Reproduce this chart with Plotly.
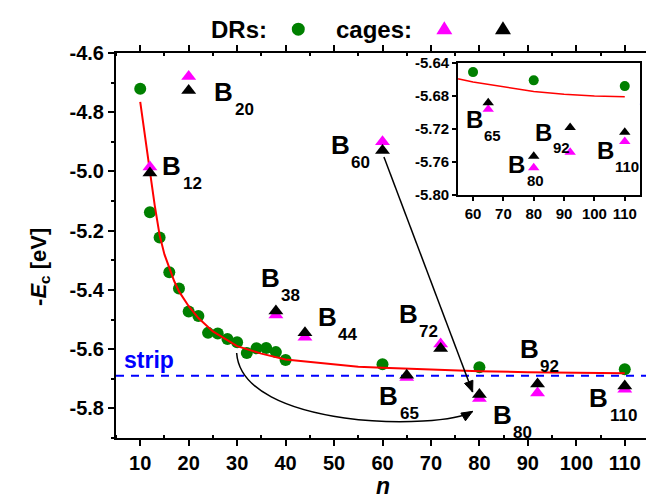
import math
import plotly.graph_objects as go

# ---------------- data ----------------
dr_n = [10, 12, 14, 16, 18, 20, 22, 24, 26, 28, 30, 32, 34, 36, 38, 40, 60, 80, 110]
dr_e = [-4.721, -5.138, -5.223, -5.340, -5.395, -5.473, -5.488, -5.545, -5.547, -5.566,
        -5.577, -5.613, -5.597, -5.596, -5.610, -5.637, -5.651, -5.661, -5.668]

cage_n = [12, 20, 38, 44, 60, 65, 72, 80, 92, 110]
cage_a = [-4.985, -4.679, -5.485, -5.560, -4.900, -5.696, -5.583, -5.767, -5.748, -5.735]  # magenta
cage_b = [-5.005, -4.727, -5.471, -5.545, -4.929, -5.688, -5.598, -5.753, -5.718, -5.724]  # black

fit_n = [10, 11, 12, 13, 14, 15, 16, 17, 18, 20, 22, 25, 30, 35, 40, 50, 55, 60, 70, 80, 90, 100, 110]
fit_e = [-4.765, -4.89, -5.0, -5.115, -5.215, -5.28, -5.328, -5.37, -5.405, -5.455, -5.495,
         -5.54, -5.59, -5.615, -5.635, -5.652, -5.659, -5.663, -5.669, -5.6745, -5.678, -5.680, -5.681]

strip_e = -5.69

x_ticks = [10, 20, 30, 40, 50, 60, 70, 80, 90, 100, 110]
x_ticktext = ["10", "20", "30", "40", "50", "60", "70", "80", "90", "100", "110"]
y_ticks = [-5.8, -5.6, -5.4, -5.2, -5.0, -4.8, -4.6]
y_ticktext = ["-5.8", "-5.6", "-5.4", "-5.2", "-5.0", "-4.8", "-4.6"]

ix_ticks = [60, 70, 80, 90, 100, 110]
ix_ticktext = ["60", "70", "80", "90", "100", "110"]
iy_ticks = [-5.80, -5.76, -5.72, -5.68, -5.64]
iy_ticktext = ["-5.80", "-5.76", "-5.72", "-5.68", "-5.64"]

# cluster labels: (subscript, x, y) of the "B"
main_labels = [("20", 27.2, -4.730), ("12", 16.5, -4.983), ("38", 36.8, -5.360),
               ("44", 48.6, -5.492), ("60", 51.3, -4.912), ("72", 65.3, -5.481),
               ("65", 61.3, -5.757), ("80", 84.7, -5.824), ("92", 90.3, -5.598),
               ("110", 104.6, -5.764)]
inset_labels = [("65", 60.4, -5.709), ("80", 74.4, -5.763), ("92", 83.2, -5.724),
                ("110", 103.5, -5.746)]

FONT = "Liberation Sans"
GREEN = "#008000"
MAGENTA = "#ff00ff"

# figure geometry (px)
W, H = 654, 499
ML, MR, MT, MB = 108, 5, 45, 69
PW, PH = W - ML - MR, H - MT - MB
XR, YR = [5, 115], [-5.9, -4.6]
PX_X = PW / (XR[1] - XR[0])
PX_Y = PH / (YR[1] - YR[0])

fig = go.Figure()

for xa, ya, msz, tsz in (("x", "y", 12, 13), ("x2", "y2", 10, 10)):
    fig.add_trace(go.Scatter(x=dr_n, y=dr_e, mode="markers", xaxis=xa, yaxis=ya,
                             marker=dict(symbol="circle", size=msz, color=GREEN),
                             showlegend=False))
    fig.add_trace(go.Scatter(x=fit_n, y=fit_e, mode="lines", xaxis=xa, yaxis=ya,
                             line=dict(color="red", width=2 if xa == "x" else 1.5),
                             showlegend=False))
    fig.add_trace(go.Scatter(x=cage_n, y=cage_a, mode="markers", xaxis=xa, yaxis=ya,
                             marker=dict(symbol="triangle-up", size=tsz, color=MAGENTA),
                             showlegend=False))
    fig.add_trace(go.Scatter(x=cage_n, y=cage_b, mode="markers", xaxis=xa, yaxis=ya,
                             marker=dict(symbol="triangle-up", size=tsz, color="black"),
                             showlegend=False))

main_axis = dict(showline=True, linecolor="black", linewidth=2, mirror="allticks",
                 ticks="outside", ticklen=6, tickwidth=2, tickcolor="black",
                 showgrid=False, zeroline=False,
                 tickfont=dict(family=FONT, size=20, color="black", weight="bold"))
inset_axis = dict(showline=True, linecolor="black", linewidth=1.5, mirror=True,
                  ticks="outside", ticklen=4, tickwidth=1.5, tickcolor="black",
                  showgrid=False, zeroline=False,
                  tickfont=dict(family=FONT, size=15, color="black", weight="bold"))

fig.update_layout(
    width=W, height=H,
    margin=dict(l=ML, r=MR, t=MT, b=MB),
    plot_bgcolor="white", paper_bgcolor="white",
    showlegend=False,
    xaxis=dict(main_axis, range=XR, tickvals=x_ticks, ticktext=x_ticktext,
               domain=[0, 1], anchor="y",
               minor=dict(tickvals=[5, 15, 25, 35, 45, 55, 65, 75, 85, 95, 105, 115],
                          ticks="inside", ticklen=3, tickwidth=1.5, tickcolor="black")),
    yaxis=dict(main_axis, range=YR, tickvals=y_ticks, ticktext=y_ticktext,
               domain=[0, 1], anchor="x",
               minor=dict(tickvals=[-5.9, -5.7, -5.5, -5.3, -5.1, -4.9, -4.7],
                          ticks="outside", ticklen=3, tickwidth=1.5, tickcolor="black")),
    xaxis2=dict(inset_axis, range=[55, 115], tickvals=ix_ticks, ticktext=ix_ticktext,
                domain=[0.6414, 0.983], anchor="y2"),
    yaxis2=dict(inset_axis, range=[-5.80, -5.64], tickvals=iy_ticks, ticktext=iy_ticktext,
                domain=[0.631, 0.974], anchor="x2"),
)


def arrow_head(tip_x, tip_y, dx_px, dy_px_up, length=11, half=4.5):
    """Filled arrowhead (pixel-sized) at a data-space tip, pointing along (dx, dy)."""
    n = math.hypot(dx_px, dy_px_up)
    ux, uy = dx_px / n, dy_px_up / n
    px, py = -uy, ux
    bx, by = -length * ux, -length * uy
    p1 = (bx + half * px, by + half * py)
    p2 = (bx - half * px, by - half * py)
    path = "M 0,0 L {:.2f},{:.2f} L {:.2f},{:.2f} Z".format(p1[0], p1[1], p2[0], p2[1])
    return dict(type="path", xref="x", yref="y", xsizemode="pixel", ysizemode="pixel",
                xanchor=tip_x, yanchor=tip_y, path=path, fillcolor="black",
                line=dict(color="black", width=1))


# straight arrow B60 -> B80
s_from = (60.3, -4.951)
s_to = (78.6, -5.745)
# curved arrow from the DR region to B80
c_p0, c_p1, c_p2, c_p3 = (29.9, -5.613), (31.0, -5.87), (72.0, -5.875), (78.6, -5.810)

shapes = [
    dict(type="line", xref="x domain", yref="y", x0=0, x1=1, y0=strip_e, y1=strip_e,
         line=dict(color="blue", width=2, dash="8px,7px"), layer="below"),
    dict(type="line", xref="x2 domain", yref="y2", x0=0, x1=1, y0=strip_e, y1=strip_e,
         line=dict(color="blue", width=1.5, dash="6px,5px"), layer="below"),
    dict(type="line", xref="x", yref="y", x0=s_from[0], y0=s_from[1],
         x1=s_to[0], y1=s_to[1], line=dict(color="black", width=1.5)),
    arrow_head(s_to[0], s_to[1], (s_to[0] - s_from[0]) * PX_X, (s_to[1] - s_from[1]) * PX_Y),
    dict(type="path", xref="x", yref="y",
         path="M {},{} C {},{} {},{} {},{}".format(*c_p0, *c_p1, *c_p2, *c_p3),
         line=dict(color="black", width=1.5)),
    arrow_head(c_p3[0], c_p3[1], (c_p3[0] - c_p2[0]) * PX_X, (c_p3[1] - c_p2[1]) * PX_Y),
    # legend markers
    dict(type="circle", xref="paper", yref="paper", xsizemode="pixel", ysizemode="pixel",
         xanchor=0.342, yanchor=1.062, x0=-6.5, x1=6.5, y0=-6.5, y1=6.5,
         fillcolor=GREEN, line=dict(width=0)),
    dict(type="path", xref="paper", yref="paper", xsizemode="pixel", ysizemode="pixel",
         xanchor=0.616, yanchor=1.062, path="M -8,-5 L 8,-5 L 0,8 Z",
         fillcolor=MAGENTA, line=dict(width=0)),
    dict(type="path", xref="paper", yref="paper", xsizemode="pixel", ysizemode="pixel",
         xanchor=0.726, yanchor=1.062, path="M -8,-5 L 8,-5 L 0,8 Z",
         fillcolor="black", line=dict(width=0)),
]
fig.update_layout(shapes=shapes)

ann = []


def bold(s, c="black"):
    return dict(family=FONT, size=s, color=c, weight="bold")


for sub, x, y in main_labels:
    ann.append(dict(x=x, y=y, xref="x", yref="y", text="B", showarrow=False,
                    xanchor="center", yanchor="middle", font=bold(26)))
    ann.append(dict(x=x, y=y, xref="x", yref="y", text=sub, showarrow=False,
                    xanchor="left", yanchor="top", xshift=9, yshift=-6, font=bold(17)))
for sub, x, y in inset_labels:
    ann.append(dict(x=x, y=y, xref="x2", yref="y2", text="B", showarrow=False,
                    xanchor="center", yanchor="middle", font=bold(24)))
    ann.append(dict(x=x, y=y, xref="x2", yref="y2", text=sub, showarrow=False,
                    xanchor="left", yanchor="top", xshift=8, yshift=-5, font=bold(15)))

ann += [
    dict(x=11.9, y=-5.637, xref="x", yref="y", text="strip", showarrow=False,
         xanchor="center", yanchor="middle", font=bold(23, "blue")),
    # legend text
    dict(x=0.230, y=1.062, xref="paper", yref="paper", text="DRs:", showarrow=False,
         xanchor="center", yanchor="middle", font=bold(24)),
    dict(x=0.484, y=1.062, xref="paper", yref="paper", text="cages:", showarrow=False,
         xanchor="center", yanchor="middle", font=bold(24)),
    # axis titles
    dict(x=0.5, y=-0.124, xref="paper", yref="paper", text="<i>n</i>", showarrow=False,
         xanchor="center", yanchor="middle", font=bold(23)),
    dict(x=-0.144, y=0.445, xref="paper", yref="paper",
         text="-<i>E</i><sub>c</sub> [eV]", showarrow=False, textangle=-90,
         xanchor="center", yanchor="middle", font=bold(22)),
]
fig.update_layout(annotations=ann)

fig.write_html("out.html")
